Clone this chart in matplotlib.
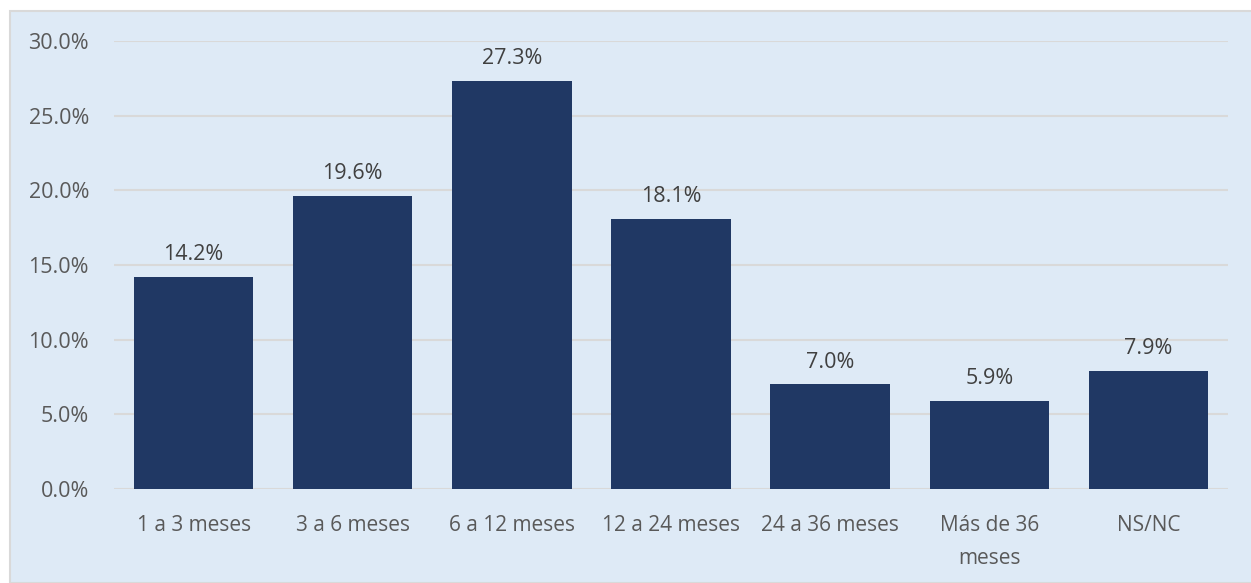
import matplotlib.pyplot as plt
from matplotlib.patches import Rectangle
from matplotlib.ticker import FuncFormatter

categorias = ['1 a 3 meses', '3 a 6 meses', '6 a 12 meses', '12 a 24 meses',
              '24 a 36 meses', 'Más de 36\nmeses', 'NS/NC']
porcentajes = [14.2, 19.6, 27.3, 18.1, 7.0, 5.9, 7.9]

fondo = '#DEEAF6'
barra = '#203864'
texto = '#595959'

plt.rcParams['font.family'] = ['Open Sans', 'DejaVu Sans']

fig = plt.figure(figsize=(12.51, 5.83), dpi=100, facecolor='white')
fig.add_artist(Rectangle((10 / 1251, 0), 1.0, 1 - 11 / 583, transform=fig.transFigure,
                         facecolor=fondo, edgecolor='#D9D9D9', linewidth=1.5, zorder=-10))

ax = fig.add_axes([114 / 1251, 1 - 489 / 583, (1228 - 114) / 1251, (489 - 41) / 583])
ax.set_facecolor('none')

x = range(len(categorias))
ax.bar(x, porcentajes, width=0.75, color=barra, zorder=3)
for i, v in enumerate(porcentajes):
    ax.text(i, v + 0.8, f'{v:.1f}%', ha='center', va='bottom', fontsize=15.5, color='#404040')

ax.set_xlim(-0.5, len(categorias) - 0.5)
ax.set_ylim(0, 30)
ax.set_yticks(range(0, 31, 5))
ax.yaxis.set_major_formatter(FuncFormatter(lambda v, p: f'{v:.1f}%'))
ax.set_xticks(list(x))
ax.set_xticklabels(categorias, linespacing=1.75)
ax.grid(axis='y', color='#D9D9D9', linewidth=1.5, zorder=0)
for s in ax.spines.values():
    s.set_visible(False)
ax.tick_params(axis='both', length=0, labelcolor=texto)
ax.tick_params(axis='y', pad=18, labelsize=15.5)
ax.tick_params(axis='x', pad=19, labelsize=15)

fig.savefig('out.png', dpi=100, facecolor='white')
